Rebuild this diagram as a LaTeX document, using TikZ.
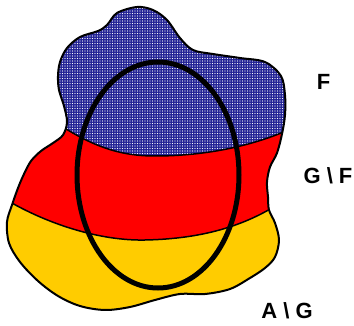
\documentclass[tikz,border=0pt]{standalone}
\usepackage{fontspec}
\setmainfont{Liberation Sans}
\usetikzlibrary{patterns.meta,shapes.geometric}
\definecolor{blobblue}{RGB}{35,35,150}
\definecolor{blobred}{RGB}{255,0,0}
\definecolor{blobyellow}{RGB}{255,204,0}
\tikzset{
  lbl/.style={font=\fontsize{22}{26}\selectfont\bfseries, inner sep=0pt},
  outline/.style={line width=2pt, line join=round},
  border/.style={line width=1.5pt},
  ring/.style={line width=5pt}
}
\begin{document}
\begin{tikzpicture}[x=1pt,y=-1pt]
\useasboundingbox (0,0) rectangle (354,326);
\def\blob{plot[smooth cycle, tension=0.55] coordinates {
 (60,62) (67,48) (80,37) (98,31) (107,25) (117,13) (137,7) (153,10) (167,20)
 (180,38) (193,50) (213,54) (240,58) (265,62) (281,76) (285,95) (285,115)
 (282,134) (277,153) (270,167) (267,182) (268,197) (269,210) (275,223)
 (279,240) (275,257) (265,268) (250,278) (230,289) (205,294) (180,294)
 (155,300) (130,307) (105,310) (80,306) (58,296) (38,281) (20,262)
 (9,243) (7,222) (12,205) (18,188) (24,174) (31,161) (41,151) (53,143) (63,135)
 (67,122) (64,106) (59,90) (58,76)}}
\begin{scope}
  \clip \blob;
  \fill[blobblue] (0,0) rectangle (354,326);
  \fill[pattern={Dots[radius=0.55pt, distance=2.5pt]}, pattern color=white] (0,0) rectangle (354,326);
  \fill[blobred] (45,115) .. controls (90,147) and (120,156) .. (155,156)
     .. controls (200,156) and (250,148) .. (295,127) -- (354,127) -- (354,326)
     -- (0,326) -- (0,115) -- cycle;
  \fill[blobyellow] (0,196) .. controls (45,224) and (100,241) .. (145,240)
     .. controls (195,239) and (240,229) .. (280,203) -- (354,203) -- (354,326) -- (0,326) -- cycle;
  \draw[border] (45,115) .. controls (90,147) and (120,156) .. (155,156)
     .. controls (200,156) and (250,148) .. (295,127);
  \draw[border] (0,196) .. controls (45,224) and (100,241) .. (145,240)
     .. controls (195,239) and (240,229) .. (280,203);
\end{scope}
\draw[outline] \blob;
\node[ring, draw, ellipse, minimum width=162pt, minimum height=226pt, inner sep=0pt] (ring) at (158,175) {};
\node[lbl] (f) at (323.5,81.5) {F};
\node[lbl] (gf) at (328,176) {G \textbackslash{} F};
\node[lbl] (ag) at (287,311) {A \textbackslash{} G};
\end{tikzpicture}
\end{document}
